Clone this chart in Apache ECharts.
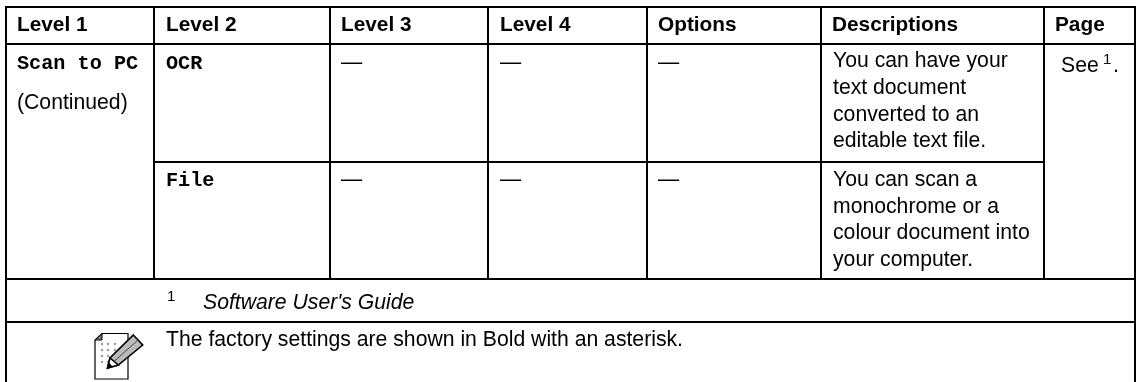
<!DOCTYPE html>
<html><head><meta charset="utf-8">
<style>html,body{margin:0;padding:0;background:#fff}#c{width:1136px;height:382px}</style>
<script src="https://cdn.jsdelivr.net/npm/echarts@6/dist/echarts.min.js"></script>
</head><body><div id="c"></div>
<script>
// Table content
const headers = ['Level 1','Level 2','Level 3','Level 4','Options','Descriptions','Page'];
const level1 = ['Scan to PC'];
const level1Note = ['(Continued)'];
const level2 = ['OCR','File'];
const dash = ['—','—','—'];
const descriptions = [
  ['You can have your','text document','converted to an','editable text file.'],
  ['You can scan a','monochrome or a','colour document into','your computer.']
];
const pageNote = ['See ','1','.'];
const footnote = ['1',"Software User's Guide"];
const note = ['The factory settings are shown in Bold with an asterisk.'];

// Layout
const colLines = [6,154,330,488,647,821,1044,1135];
const rowLines = [7,44,162,279,322,382];
const headerX = [17,166,341,500,658,832,1055];
const SANS = '"Liberation Sans", Arial, sans-serif';
const MONO = '"Liberation Mono", "Courier New", monospace';
const FS = 21.2, FB = 20.8;
const els = [];
function line(x1,y1,x2,y2,w){
  els.push({type:'line',shape:{x1,y1,x2,y2},style:{stroke:'#000',lineWidth:w===undefined?2:w},silent:true});
}
function text(str,x,y,o){
  o=o||{};
  els.push({type:'text',x,y,silent:true,style:{text:str,fill:'#000',align:'left',verticalAlign:'middle',
    font:(o.style||'')+' '+(o.weight||'')+' '+(o.size||FS)+'px '+(o.family||SANS)}});
}
// frame lines
line(colLines[0],rowLines[0]-1,colLines[0],382);
line(colLines[7],rowLines[0]-1,colLines[7],382);
line(colLines[0]-1,rowLines[0],colLines[7]+1,rowLines[0]);
line(colLines[0],rowLines[1],colLines[7],rowLines[1]);
line(colLines[0],rowLines[3],colLines[7],rowLines[3]);
line(colLines[0],rowLines[4],colLines[7],rowLines[4]);
line(colLines[1]-1,rowLines[2],colLines[6],rowLines[2]);
for(let i=1;i<=6;i++) line(colLines[i],rowLines[0],colLines[i],rowLines[3]);

headers.forEach((h,i)=>text(h,headerX[i],25,{weight:'bold',size:FB}));
text(level1[0],17,64,{family:MONO,weight:'bold',size:20.2});
text(level1Note[0],17,103.5);
const rowY=[64,181];
const dashY=[62.8,180.5];
level2.forEach((t,i)=>text(t,166,rowY[i],{family:MONO,weight:'bold',size:20.2}));
[341,500,658].forEach((x,k)=>{ dashY.forEach(y=>text(dash[k],x,y)); });
const firstLine=[61.5,180];
descriptions.forEach((ls,r)=>ls.forEach((t,j)=>text(t,833,firstLine[r]+j*26.7)));
text(pageNote[0],1061,66.5);
text(pageNote[1],1103,60,{size:15});
text(pageNote[2],1113,66.5);
text(footnote[0],167,296.5,{size:15});
text(footnote[1],203,303,{style:'italic'});
text(note[0],166,340);

// Note icon
els.push({type:'polygon',silent:true,shape:{points:[[102,333.5],[128,333.5],[128,379],[95,379],[95,340]]},style:{fill:'#fff',stroke:'#000',lineWidth:1.2}});
els.push({type:'polygon',silent:true,shape:{points:[[102,333.5],[102,340],[95,340]]},style:{fill:'#777',stroke:'#000',lineWidth:1}});
[[102,344],[108,344],[115,344],[102,350],[108,350],[115,350],[102,356],[108,356],[102,362],[108,362]].forEach(p=>{
  els.push({type:'circle',silent:true,shape:{cx:p[0],cy:p[1],r:1.2},style:{fill:'#999'}});
});
els.push({type:'polygon',silent:true,shape:{points:[[133.3,335],[142.7,345],[118.3,365],[107.5,368],[110,358]]},style:{fill:'#bbb',stroke:'#000',lineWidth:1.6}});
els.push({type:'polygon',silent:true,shape:{points:[[110,358],[118.3,365],[107.5,368]]},style:{fill:'#fff',stroke:'#000',lineWidth:1.6}});
els.push({type:'polygon',silent:true,shape:{points:[[107.5,368],[112.5,366.5],[109,362.5]]},style:{fill:'#000'}});
els.push({type:'line',silent:true,shape:{x1:114,y1:361.5,x2:138,y2:340},style:{stroke:'#444',lineWidth:1}});

const chart=echarts.init(document.getElementById('c'),null,{renderer:'canvas'});
chart.setOption({animation:false,backgroundColor:'#fff',graphic:{elements:els}});
</script></body></html>
